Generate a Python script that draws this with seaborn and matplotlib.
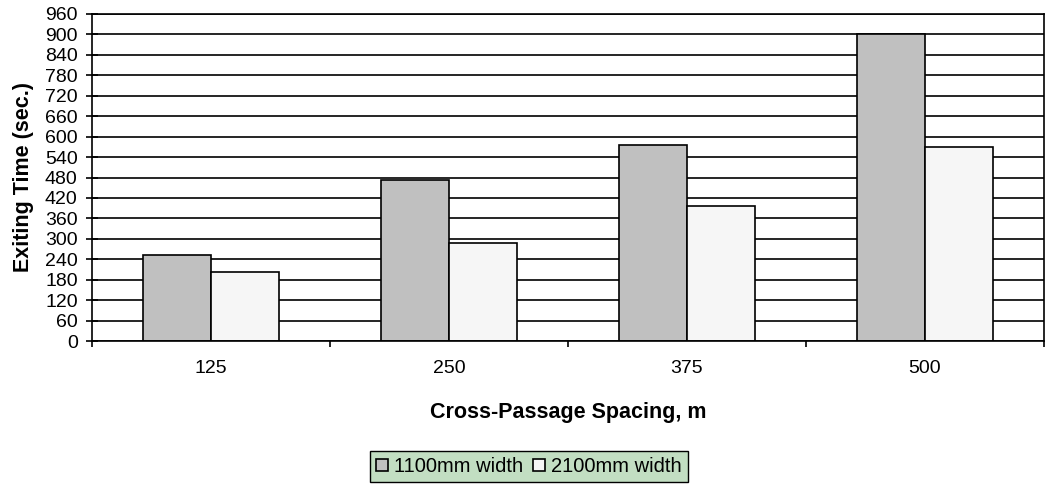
import pandas as pd
import numpy as np
import seaborn as sns
import matplotlib.pyplot as plt

spacing = ['125', '250', '375', '500']
width_1100 = [252, 473, 575, 900]
width_2100 = [203, 289, 395, 570]
series = ['1100mm width', '2100mm width']

df = pd.DataFrame({
    'spacing': spacing * 2,
    'time': width_1100 + width_2100,
    'series': [series[0]] * 4 + [series[1]] * 4,
})

sns.set_style('white')
plt.rcParams['font.family'] = ['Liberation Sans', 'DejaVu Sans']
plt.rcParams.update({'text.color': 'black', 'axes.labelcolor': 'black',
                     'xtick.color': 'black', 'ytick.color': 'black'})

fig = plt.figure(figsize=(10.47, 4.84), dpi=100)
ax = fig.add_axes([92/1047, 1 - 341/484, 952/1047, 327/484])

sns.barplot(data=df, x='spacing', y='time', hue='series', ax=ax,
            palette=['#C0C0C0', '#F6F6F6'], width=0.572, gap=0,
            edgecolor='black', linewidth=1.2, saturation=1)

ax.set_ylim(0, 960)
ax.set_xlim(-0.5, 3.5)
ax.set_yticks(np.arange(0, 961, 60))
ax.yaxis.grid(True, color='black', linewidth=1.2)
ax.set_axisbelow(True)
for s in ax.spines.values():
    s.set_color('black')
    s.set_linewidth(1.2)

ax.tick_params(axis='y', direction='inout', length=8.6, width=1.2, labelsize=14, pad=6, left=True)
ax.tick_params(axis='x', which='major', length=0, labelsize=14, pad=14)
ax.set_xticks([-0.5, 0.5, 1.5, 2.5, 3.5], minor=True)
ax.tick_params(axis='x', which='minor', direction='out', length=4.5, width=1.2, bottom=True)

ax.set_xlabel('Cross-Passage Spacing, m', fontsize=15.5, fontweight='bold', labelpad=18)
ax.set_ylabel('Exiting Time (sec.)', fontsize=15.5, fontweight='bold', labelpad=8)

sns.move_legend(ax, 'center', bbox_to_anchor=((529 - 92) / 952, (341 - 466.5) / 327), ncol=2, title=None,
                frameon=True, fancybox=False, facecolor='#C2DEC2', edgecolor='black',
                fontsize=14.5, handlelength=0.6, handleheight=0.6, handletextpad=0.3,
                columnspacing=0.5, borderpad=0.3, framealpha=1)
ax.get_legend().get_frame().set_linewidth(1.0)

fig.savefig('out.png', dpi=100)
